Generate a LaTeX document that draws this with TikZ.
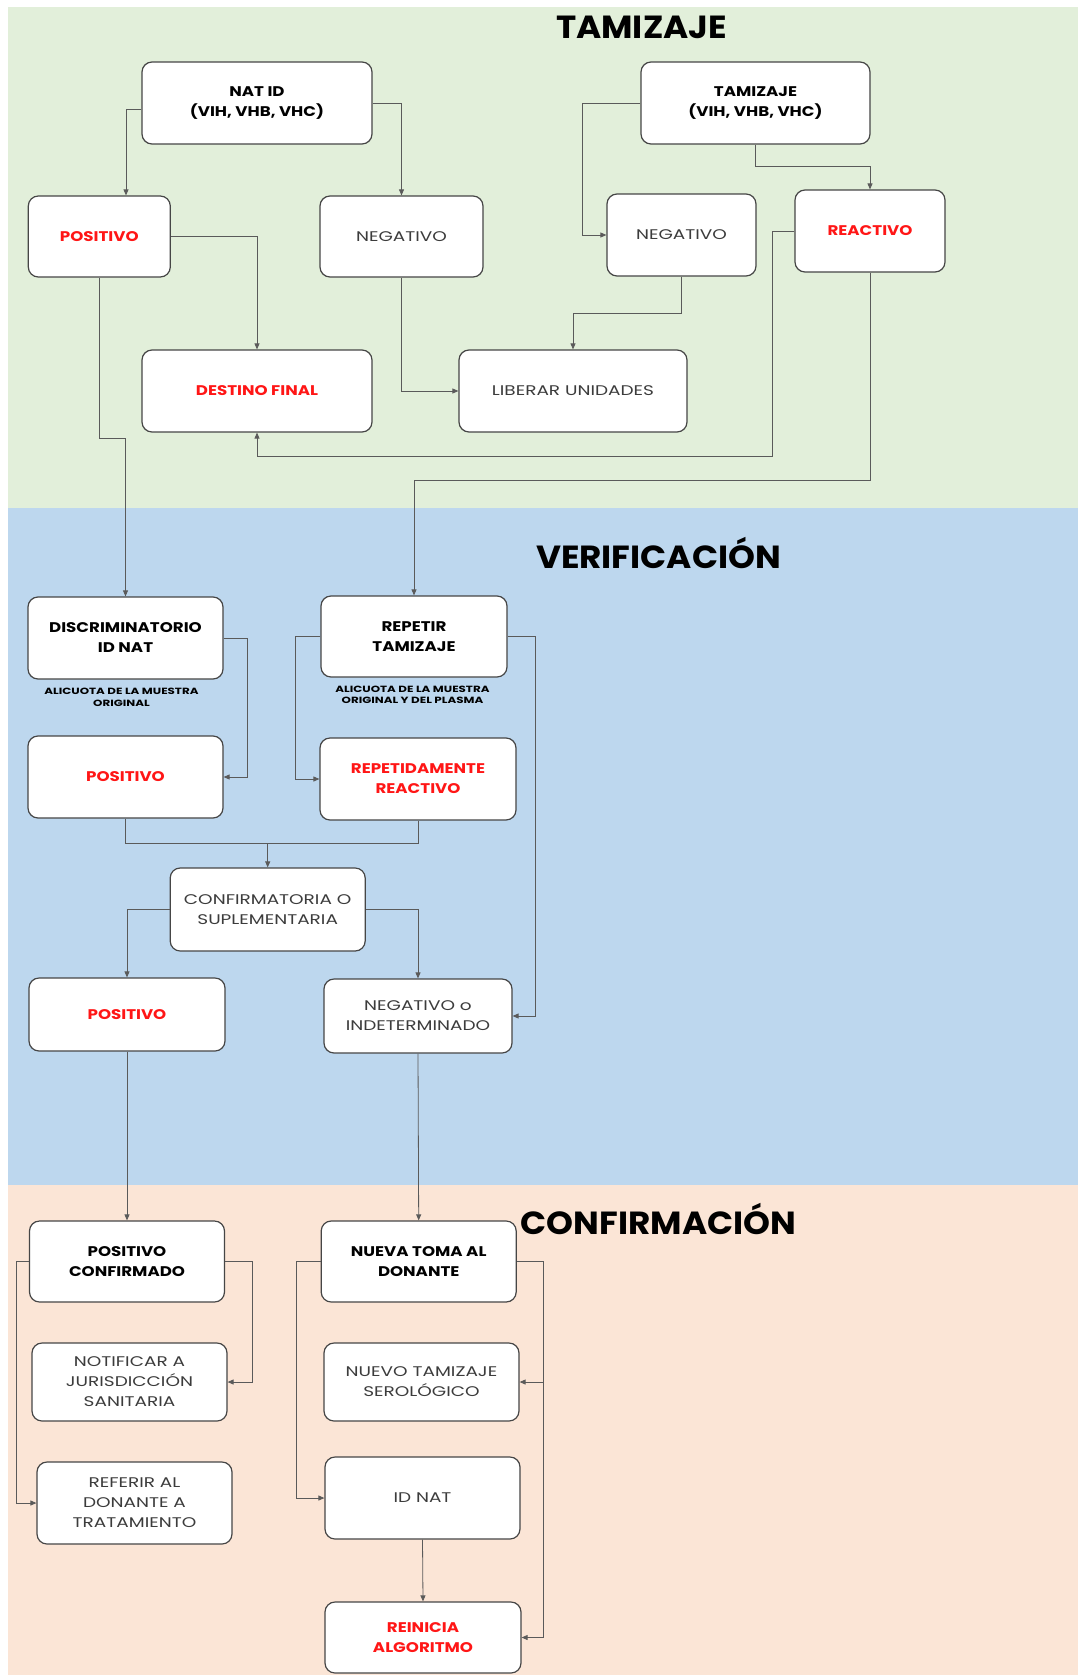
\documentclass[tikz,border=0pt]{standalone}
\usepackage{fontspec}
\setmainfont{Poppins}
\newfontfamily\boldwide{Poppins}[FakeStretch=1.19]
\newfontfamily\regwide{Poppins}[FakeStretch=1.32]
\newfontfamily\titlewide{Poppins}[FakeStretch=1.07]
\newfontfamily\captwide{Poppins}[FakeStretch=1.32]
\usetikzlibrary{arrows.meta,calc}
\definecolor{bgGreen}{RGB}{226,239,218}
\definecolor{bgBlue}{RGB}{189,215,238}
\definecolor{bgPeach}{RGB}{251,229,214}
\definecolor{boxline}{RGB}{70,70,70}
\definecolor{connline}{RGB}{90,90,90}
\definecolor{txtred}{RGB}{255,22,22}
\definecolor{txtgray}{RGB}{60,60,60}
\tikzset{
  box/.style={draw=boxline, line width=1.2pt, fill=white, rounded corners=10pt,
    align=center, inner sep=2pt, font=\regwide\fontsize{14}{20}\selectfont},
  bbox/.style={box, font=\boldwide\fontsize{14}{20}\selectfont\bfseries, text=black},
  rbox/.style={box, font=\boldwide\fontsize{14}{20}\selectfont\bfseries, text=txtred},
  gbox/.style={box, text=txtgray},
  sz/.style 2 args={minimum width=#1pt, minimum height=#2pt},
  conn/.style={draw=connline, line width=0.8pt, -{Triangle[length=6pt,width=5pt]}},
  plainline/.style={draw=connline, line width=0.8pt},
  bandtitle/.style={font=\titlewide\fontsize{32}{36}\selectfont\bfseries, anchor=base, text=black, inner sep=0pt},
  capt/.style={font=\captwide\fontsize{9}{11.5}\selectfont\bfseries, align=center, text=black, inner sep=0pt}
}
\begin{document}
\begin{tikzpicture}[x=1pt,y=-1pt]
\useasboundingbox (0,0) rectangle (1078,1675);
\fill[white] (0,0) rectangle (1078,1675);
% bands
\fill[bgGreen] (7.6,6.9) rectangle (1078,508);
\fill[bgBlue] (7.6,508) rectangle (1078,1185);
\fill[bgPeach] (7.6,1185) rectangle (1078,1675);
% titles
\node[bandtitle] (tTam) at (641.5,39) {TAMIZAJE};
\node[bandtitle] (tVer) at (658.5,568) {VERIFICACIÓN};
\node[bandtitle] (tConf) at (658.5,1234) {CONFIRMACIÓN};
% TAMIZAJE band
\node[bbox, sz={230}{82}] (natid) at (257,103) {NAT ID\\(VIH, VHB, VHC)};
\node[bbox, sz={229}{82}] (tam) at (755.5,103) {TAMIZAJE\\(VIH, VHB, VHC)};
\node[rbox, sz={142}{81}] (pos1) at (99.3,236.5) {POSITIVO};
\node[gbox, sz={163}{81}] (neg1) at (401.5,236.5) {NEGATIVO};
\node[gbox, sz={149}{82}] (neg2) at (681.5,235) {NEGATIVO};
\node[rbox, sz={150}{82}] (react) at (870,231) {REACTIVO};
\node[rbox, sz={230}{82}] (dest) at (257,391) {DESTINO FINAL};
\node[gbox, sz={228}{82}] (lib) at (573,391) {LIBERAR UNIDADES};
% VERIFICACION band
\node[bbox, sz={195}{82}] (disc) at (125.5,638) {DISCRIMINATORIO\\ID NAT};
\node[capt] (cap1) at (121.5,697.5) {ALICUOTA DE LA MUESTRA\\ORIGINAL};
\node[bbox, sz={186}{81}] (rep) at (414,636.5) {REPETIR\\TAMIZAJE};
\node[capt] (cap2) at (412.5,695) {ALICUOTA DE LA MUESTRA\\ORIGINAL Y DEL PLASMA};
\node[rbox, sz={195}{82}] (pos2) at (125.5,777) {POSITIVO};
\node[rbox, sz={196}{82}] (rr) at (418,779) {REPETIDAMENTE\\REACTIVO};
\node[gbox, sz={195}{83}] (conf) at (267.7,909.5) {CONFIRMATORIA O\\SUPLEMENTARIA};
\node[rbox, sz={196}{73}] (pos3) at (127,1014.5) {POSITIVO};
\node[gbox, sz={188}{74}] (negind) at (418,1016) {NEGATIVO o\\INDETERMINADO};
% CONFIRMACION band
\node[bbox, sz={195}{81}] (pc) at (127,1261.5) {POSITIVO\\CONFIRMADO};
\node[gbox, sz={195}{78}] (notif) at (129.5,1382) {NOTIFICAR A\\JURISDICCIÓN\\SANITARIA};
\node[gbox, sz={195}{82}] (ref) at (134.5,1503) {REFERIR AL\\DONANTE A\\TRATAMIENTO};
\node[bbox, sz={195}{81}] (nt) at (418.7,1261.5) {NUEVA TOMA AL\\DONANTE};
\node[gbox, sz={195}{78}] (nts) at (421.5,1382) {NUEVO TAMIZAJE\\SEROLÓGICO};
\node[gbox, sz={195}{82}] (idnat) at (422.5,1498) {ID NAT};
\node[rbox, sz={196}{71}] (rein) at (423,1637.5) {REINICIA\\ALGORITMO};
% waypoints
\coordinate (h1) at (772,456);
\coordinate (j1) at (267.7,843);
\coordinate (v1) at ($(nt.east)+(27,0)$);
% connectors TAMIZAJE
\draw[conn] ($(natid.west)+(0,6)$) -| ($(pos1.north)+(26.7,0)$);
\draw[conn] (natid.east) -| (neg1.north);
\draw[conn] (pos1.east) -| (dest.north);
\draw[conn] (neg1.south) |- (lib.west);
\draw[conn] (tam.west) -- ++(-58,0) |- (neg2.west);
\draw[conn] (tam.south) -- ++(0,22) -| (react.north);
\draw[conn] (neg2.south) -- ++(0,37) -| (lib.north);
\draw[conn] (react.west) -| (h1) -| (dest.south);
\draw[conn] (pos1.south) -- ++(0,161) -| (disc.north);
\draw[conn] (react.south) -- ++(0,208) -| (rep.north);
% connectors VERIFICACION
\draw[conn] (disc.east) -- ++(24,0) |- (pos2.east);
\draw[conn] (rep.west) -- ++(-25,0) |- (rr.west);
\draw[conn] (rep.east) -- ++(28,0) |- (negind.east);
\draw[plainline] (rr.south) |- (j1);
\draw[conn] (pos2.south) |- (j1) -- (conf.north);
\draw[conn] (conf.west) -| (pos3.north);
\draw[conn] (conf.east) -| (negind.north);
\draw[conn] (pos3.south) -- (pc.north);
\draw[conn] (negind.south) -- (nt.north);
% connectors CONFIRMACION
\draw[conn] (pc.west) -- ++(-13,0) |- (ref.west);
\draw[conn] (pc.east) -- ++(27,0) |- (notif.east);
\draw[conn] (nt.west) -- ++(-24,0) |- (idnat.west);
\draw[conn] (nt.east) -- (v1) |- (rein.east);
\draw[conn] (v1) |- (nts.east);
\draw[conn] (idnat.south) -- (rein.north);
\end{tikzpicture}
\end{document}
